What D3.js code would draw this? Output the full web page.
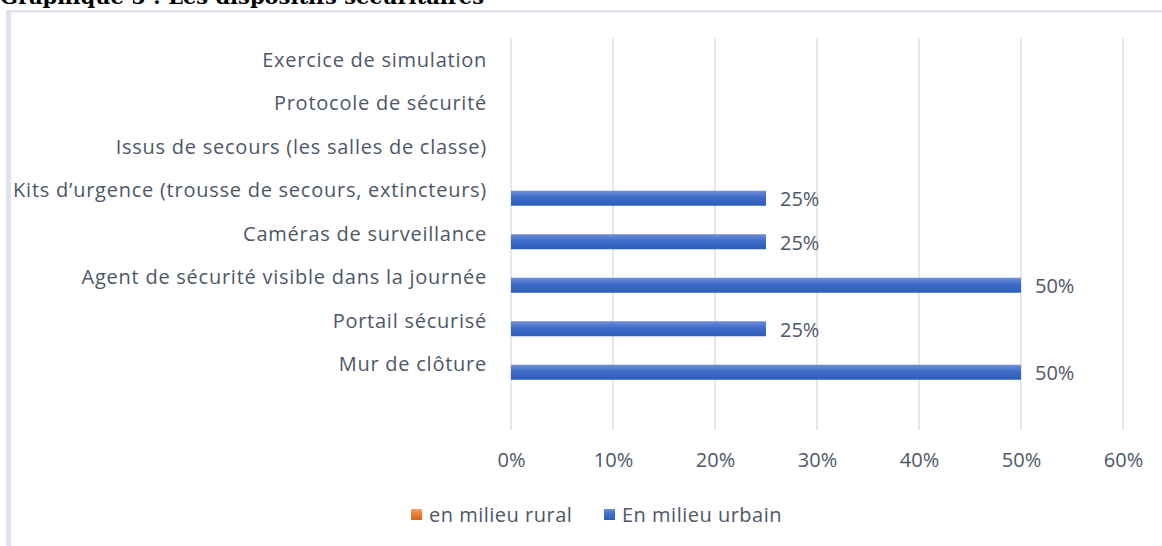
<!DOCTYPE html>
<html>
<head>
<meta charset="utf-8">
<script src="https://cdn.jsdelivr.net/npm/d3@7"></script>
<style>
  html, body { margin: 0; padding: 0; background: #fff; overflow: hidden; }
  svg { display: block; }
</style>
</head>
<body>
<div id="chart"></div>
<script>
// Categories listed top to bottom; the last one is an empty slot kept by the source chart
const categories = [
  'Exercice de simulation',
  'Protocole de sécurité',
  'Issus de secours (les salles de classe)',
  'Kits d\u2019urgence (trousse de secours, extincteurs)',
  'Caméras de surveillance',
  'Agent de sécurité visible dans la journée',
  'Portail sécurisé',
  'Mur de clôture',
  ''
];
const seriesNames = ['en milieu rural', 'En milieu urbain'];
const ruralValues = [null, null, null, null, null, null, null, null, null];
const urbanValues = [null, null, null, 0.25, 0.25, 0.5, 0.25, 0.5, null];
const xTicks = [0, 0.1, 0.2, 0.3, 0.4, 0.5, 0.6];
const titleText = 'Graphique 5 : Les dispositifs sécuritaires';

const W = 1162, H = 546;
const PLOT = { left: 511, right: 1123, top: 38.5, bottom: 430 };
const TEXT_COLOR = '#4d5768';
const FONT = '"Open Sans", "Noto Sans", sans-serif';

const svg = d3.select('#chart').append('svg')
  .attr('width', W)
  .attr('height', H);

const defs = svg.append('defs');
function addGradient(id, stops) {
  const g = defs.append('linearGradient')
    .attr('id', id)
    .attr('x1', 0).attr('y1', 0).attr('x2', 0).attr('y2', 1);
  stops.forEach(([off, col]) => g.append('stop').attr('offset', off).attr('stop-color', col));
}
addGradient('grad-urban', [['0%', '#6d8fd8'], ['45%', '#3f6cc9'], ['100%', '#2d5cb9']]);
addGradient('grad-rural', [['0%', '#f4a270'], ['45%', '#ed7d31'], ['100%', '#d9661c']]);

// chart frame (only the left and top edges are visible in the crop)
svg.append('rect')
  .attr('x', 6).attr('y', 10)
  .attr('width', 5).attr('height', H - 10)
  .attr('fill', '#dfe4ec');
svg.append('rect')
  .attr('x', 6).attr('y', 10)
  .attr('width', W - 6).attr('height', 2.5)
  .attr('fill', '#dfe4ec');

// title, cut off at the top of the picture
svg.append('text')
  .attr('x', 0)
  .attr('y', 4)
  .attr('font-family', '"DejaVu Serif", "Liberation Serif", serif')
  .attr('font-weight', 'bold')
  .attr('font-size', '21px')
  .attr('fill', '#000')
  .text(titleText);

const x = d3.scaleLinear().domain([0, 0.6]).range([PLOT.left, PLOT.right]);
const y = d3.scaleBand().domain(categories).range([PLOT.top, PLOT.bottom]);
const barH = 15;

// gridlines
svg.append('g')
  .selectAll('line')
  .data(xTicks)
  .join('line')
  .attr('x1', d => x(d)).attr('x2', d => x(d))
  .attr('y1', PLOT.top).attr('y2', PLOT.bottom)
  .attr('stroke', '#dcdfe4')
  .attr('stroke-width', 1.5);

// x axis tick labels
const xAxis = d3.axisBottom(x)
  .tickValues(xTicks)
  .tickFormat(d3.format('.0%'))
  .tickSize(0)
  .tickPadding(0);
const xAxisG = svg.append('g')
  .attr('transform', `translate(0,${PLOT.bottom + 23})`)
  .call(xAxis);
xAxisG.select('.domain').remove();
xAxisG.selectAll('text')
  .attr('font-family', FONT)
  .attr('font-size', '20px')
  .attr('fill', TEXT_COLOR);

// category labels
const yAxis = d3.axisLeft(y).tickSize(0).tickPadding(0);
const yAxisG = svg.append('g')
  .attr('transform', `translate(${PLOT.left - 24},0)`)
  .call(yAxis);
yAxisG.select('.domain').remove();
yAxisG.selectAll('text')
  .attr('font-family', FONT)
  .attr('font-size', '20px')
  .attr('letter-spacing', '0.75px')
  .attr('fill', TEXT_COLOR);

// bars: rural sits above urban in each band
const rows = categories.map((c, i) => ({ cat: c, rural: ruralValues[i], urban: urbanValues[i] }));
const center = c => y(c) + y.bandwidth() / 2;

svg.append('g')
  .selectAll('rect')
  .data(rows.filter(d => d.rural))
  .join('rect')
  .attr('x', x(0))
  .attr('y', d => center(d.cat) - barH)
  .attr('width', d => x(d.rural) - x(0))
  .attr('height', barH)
  .attr('fill', 'url(#grad-rural)');

const urbanRows = rows.filter(d => d.urban);
svg.append('g')
  .selectAll('rect')
  .data(urbanRows)
  .join('rect')
  .attr('x', x(0))
  .attr('y', d => center(d.cat))
  .attr('width', d => x(d.urban) - x(0))
  .attr('height', barH)
  .attr('fill', 'url(#grad-urban)');

svg.append('g')
  .selectAll('text')
  .data(urbanRows)
  .join('text')
  .attr('x', d => x(d.urban) + 14)
  .attr('y', d => center(d.cat) + barH / 2 + 1)
  .attr('dy', '0.35em')
  .attr('font-family', FONT)
  .attr('font-size', '20px')
  .attr('fill', TEXT_COLOR)
  .text(d => d3.format('.0%')(d.urban));

// legend
const legend = [
  { name: seriesNames[0], grad: 'url(#grad-rural)', x: 411 },
  { name: seriesNames[1], grad: 'url(#grad-urban)', x: 604 }
];
const lg = svg.append('g').selectAll('g').data(legend).join('g')
  .attr('transform', d => `translate(${d.x},509)`);
lg.append('rect')
  .attr('width', 11).attr('height', 11)
  .attr('fill', d => d.grad);
lg.append('text')
  .attr('x', 18)
  .attr('y', 6)
  .attr('dy', '0.35em')
  .attr('font-family', FONT)
  .attr('font-size', '20px')
  .attr('letter-spacing', '0.5px')
  .attr('fill', TEXT_COLOR)
  .text(d => d.name);
</script>
</body>
</html>
